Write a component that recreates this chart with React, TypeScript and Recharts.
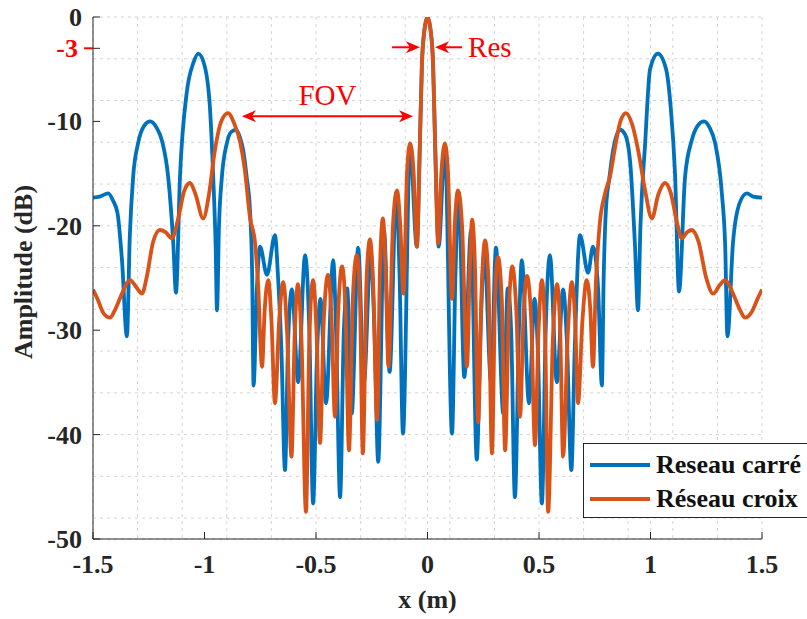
import React from 'react';
import {
  LineChart, Line, XAxis, YAxis, CartesianGrid, Legend, ReferenceLine, Label,
} from 'recharts';

// Reseau carré (blue)
const carreX = [
  -1.5, -1.47, -1.432, -1.41, -1.39, -1.37, -1.348, -1.335, -1.32, -1.298, -1.27, -1.244, -1.215, -1.19,
  -1.163, -1.14, -1.128, -1.11, -1.08, -1.05, -1.028, -0.998, -0.975, -0.961, -0.95, -0.944, -0.935,
  -0.922, -0.9, -0.88, -0.858, -0.84, -0.827, -0.81, -0.796, -0.786, -0.78, -0.765, -0.751, -0.72,
  -0.684, -0.67, -0.655, -0.639, -0.625, -0.608, -0.58, -0.549, -0.53, -0.513, -0.495, -0.48, -0.455,
  -0.423, -0.41, -0.392, -0.375, -0.36, -0.34, -0.311, -0.285, -0.255, -0.238, -0.221, -0.195, -0.17,
  -0.14, -0.125, -0.11, -0.078, -0.048, -0.034, -0.025, -0.014, 0,
  0.014, 0.025, 0.034, 0.05, 0.078, 0.11, 0.125, 0.14, 0.165, 0.195, 0.221, 0.238, 0.255, 0.285, 0.307,
  0.34, 0.36, 0.375, 0.392, 0.41, 0.423, 0.455, 0.48, 0.495, 0.513, 0.53, 0.549, 0.58, 0.608, 0.625,
  0.645, 0.66, 0.684, 0.72, 0.742, 0.765, 0.782, 0.79, 0.8, 0.815, 0.833, 0.863, 0.885, 0.908, 0.93,
  0.944, 0.955, 0.976, 0.998, 1.033, 1.07, 1.09, 1.11, 1.128, 1.155, 1.185, 1.212, 1.24, 1.265, 1.29,
  1.32, 1.335, 1.345, 1.37, 1.4, 1.432, 1.46, 1.5,
];
const carreY = [
  -17.3, -17.2, -16.9, -17.6, -18.8, -23.3, -30.6, -21, -15.3, -12.1, -10.4, -10.0, -10.6, -11.9,
  -15.3, -21.7, -26.4, -15.3, -7.3, -4.4, -3.5, -4.8, -8.9, -15.3, -22, -28.1, -20,
  -15.3, -12.1, -11.0, -10.8, -11.6, -12.7, -15.5, -18.5, -25, -35.3, -26, -22.0, -24.7,
  -20.9, -25, -32, -43.4, -31, -26.1, -35, -22.8, -30, -46.6, -32, -27, -37,
  -23.3, -30, -46, -30, -26, -38, -22.1, -35, -22.5, -30, -42.6, -20.5, -34,
  -16.8, -25, -39.9, -12.3, -22, -12, -4.5, -1.3, 0,
  -1.3, -4.5, -12, -22, -12.3, -39.9, -25, -16.8, -34.5, -20.5, -42.4, -30, -22.5, -35, -22.1,
  -38, -26, -30, -46, -30, -23.3, -37, -27, -32, -46.6, -30, -22.8, -35, -26.1, -31,
  -43.4, -32, -20.9, -24.5, -22, -26, -35.3, -25, -18.5, -15.5, -12.7, -10.8, -11.2, -13.7, -21.7,
  -28.1, -20, -12.1, -5.0, -3.5, -5.0, -8.5, -15, -26.3, -15.3, -11.8, -10.4, -10.0, -10.6, -12.1,
  -16.9, -22, -30.6, -21.6, -17.8, -16.9, -17.2, -17.3,
];

// Réseau croix (orange)
const croixX = [
  -1.5, -1.48, -1.455, -1.424, -1.4, -1.37, -1.334, -1.305, -1.28, -1.26, -1.23, -1.2, -1.175, -1.146,
  -1.12, -1.09, -1.065, -1.04, -1.006, -0.98, -0.955, -0.925, -0.895, -0.865, -0.84, -0.82, -0.796,
  -0.773, -0.76, -0.742, -0.73, -0.714, -0.7, -0.684, -0.665, -0.647, -0.63, -0.61, -0.595, -0.581,
  -0.565, -0.545, -0.53, -0.513, -0.498, -0.482, -0.465, -0.446, -0.43, -0.415, -0.4, -0.383, -0.368,
  -0.352, -0.335, -0.317, -0.303, -0.29, -0.273, -0.258, -0.243, -0.226, -0.213, -0.2, -0.188, -0.175,
  -0.155, -0.137, -0.122, -0.108, -0.092, -0.078, -0.062, -0.048, -0.034, -0.025, -0.014, 0,
  0.014, 0.025, 0.034, 0.048, 0.062, 0.078, 0.092, 0.11, 0.122, 0.137, 0.155, 0.177, 0.19, 0.2, 0.213,
  0.227, 0.243, 0.258, 0.273, 0.289, 0.303, 0.316, 0.333, 0.348, 0.365, 0.38, 0.398, 0.415, 0.43,
  0.446, 0.465, 0.482, 0.498, 0.513, 0.528, 0.541, 0.562, 0.581, 0.595, 0.608, 0.63, 0.647, 0.662,
  0.675, 0.695, 0.714, 0.73, 0.742, 0.755, 0.773, 0.795, 0.818, 0.845, 0.865, 0.89, 0.918, 0.944,
  0.975, 1.006, 1.035, 1.065, 1.09, 1.12, 1.14, 1.165, 1.185, 1.215, 1.25, 1.281, 1.31, 1.334, 1.37,
  1.4, 1.424, 1.455, 1.48, 1.5,
];
const croixY = [
  -26.1, -27, -28.3, -28.8, -28, -26.5, -25.2, -25.9, -26.5, -25, -21.5, -20.4, -20.6, -21.2,
  -19.5, -16.6, -15.9, -17, -19.3, -17, -13, -10, -9.2, -10.3, -12, -14.5, -19.2,
  -21.7, -25.5, -33.5, -28, -25.2, -29, -37, -29, -25.4, -30, -42.1, -30, -25.6,
  -31, -47.4, -31, -25.2, -30, -40.8, -29, -24.7, -29, -38.3, -28, -23.9, -28,
  -41.5, -27, -22.8, -27, -41.8, -25, -21.3, -26, -38.6, -24, -19.3, -24, -33.5,
  -20, -16.6, -20, -26.5, -15, -12.1, -15, -22, -12, -4.5, -1.3, 0,
  -1.3, -4.5, -12, -21.7, -15, -12.1, -15, -27, -20, -16.6, -20, -33.5, -24, -19.4, -24,
  -38.8, -26, -21.4, -25, -41.8, -27, -23, -27, -41.5, -28, -23.9, -28, -38.3, -29,
  -24.8, -29, -41, -30, -25.2, -31, -47.4, -31, -25.6, -30, -42.1, -30, -25.4, -29,
  -37, -29, -25.2, -28, -33.5, -25.5, -19.7, -17, -15.3, -12, -10, -9.2, -10.3, -12.7,
  -16.5, -19.3, -17, -15.9, -16.8, -19.8, -21.2, -20.6, -20.4, -21.5, -25, -26.5, -25.7, -25.2, -26.5,
  -28, -28.8, -28.2, -27, -26.1,
];

const xTicks = [-1.5, -1, -0.5, 0, 0.5, 1, 1.5];
const yTicks = [-50, -40, -30, -20, -10, -3, 0];
const gridX = [
  -1.5, -1.4, -1.3, -1.2, -1.1, -1, -0.9, -0.8, -0.7, -0.6, -0.5, -0.4, -0.3, -0.2, -0.1, 0,
  0.1, 0.2, 0.3, 0.4, 0.5, 0.6, 0.7, 0.8, 0.9, 1, 1.1, 1.2, 1.3, 1.4, 1.5,
];
const gridY = [
  -50, -48, -46, -44, -42, -40, -38, -36, -34, -32, -30, -28, -26, -24, -22, -20, -18, -16, -14,
  -12, -10, -8, -6, -4, -2, 0,
];

const carre = carreX.map((x, i) => ({ x, y: carreY[i] }));
const croix = croixX.map((x, i) => ({ x, y: croixY[i] }));

const BLUE = '#0072BD';
const ORANGE = '#D95319';
const AXIS = '#262626';
const SERIF = '"Liberation Serif", "Times New Roman", serif';
const bold = { fontFamily: SERIF, fontWeight: 700, fontSize: 26, fill: AXIS };

const XTick = ({ x, y, payload }: any) => (
  <text x={x} y={y} dy={17} textAnchor="middle" style={bold}>{String(payload.value)}</text>
);

const YTick = ({ x, y, payload }: any) => {
  if (payload.value === -3) {
    return (
      <g>
        <line x1={x + 2} y1={y} x2={x + 11} y2={y} stroke="red" strokeWidth={2} />
        <text x={x - 4} y={y} dy={9} textAnchor="end" style={{ ...bold, fill: 'red' }}>-3</text>
      </g>
    );
  }
  return <text x={x} y={y} dy={9} textAnchor="end" style={bold}>{String(payload.value)}</text>;
};

const arrowHead = (x: number, y: number, dir: number) => (
  <polygon
    points={`${x},${y} ${x - dir * 14},${y - 6} ${x - dir * 10},${y} ${x - dir * 14},${y + 6}`}
    fill="red"
  />
);

const FovArrow = (p: any) => (
  <g>
    <line x1={p.x1 + 8} y1={p.y1} x2={p.x2 - 8} y2={p.y2} stroke="red" strokeWidth={2} />
    {arrowHead(p.x1, p.y1, -1)}
    {arrowHead(p.x2, p.y2, 1)}
    <text x={(p.x1 + p.x2) / 2} y={p.y1 - 11} textAnchor="middle"
      style={{ fontFamily: SERIF, fontSize: 29, fill: 'red' }}>FOV</text>
  </g>
);

const ResLeft = (p: any) => (
  <g>
    <line x1={p.x1} y1={p.y1} x2={p.x2 - 8} y2={p.y2} stroke="red" strokeWidth={2} />
    {arrowHead(p.x2, p.y2, 1)}
  </g>
);

const ResRight = (p: any) => (
  <g>
    <line x1={p.x1} y1={p.y1} x2={p.x2 + 8} y2={p.y2} stroke="red" strokeWidth={2} />
    {arrowHead(p.x2, p.y2, -1)}
    <text x={p.x1 + 6} y={p.y1 + 10} style={{ fontFamily: SERIF, fontSize: 29, fill: 'red' }}>Res</text>
  </g>
);

const LegendBox = ({ payload }: any) => (
  <div style={{
    width: 240, height: 75, boxSizing: 'border-box', background: '#fff',
    border: `1.5px solid ${AXIS}`, padding: '4px 0 0 6px',
  }}>
    {(payload || []).map((e: any) => (
      <div key={e.value} style={{ display: 'flex', alignItems: 'center', height: 34 }}>
        <span style={{ display: 'inline-block', width: 60, height: 4, background: e.color, marginRight: 6 }} />
        <span style={{ fontFamily: SERIF, fontWeight: 700, fontSize: 26, color: '#111' }}>{e.value}</span>
      </div>
    ))}
  </div>
);

export default function App() {
  return (
    <div style={{ position: 'absolute', left: 0, top: 0, width: 807, height: 619, overflow: 'hidden', background: '#fff' }}>
      <LineChart width={807} height={619} margin={{ top: 17, right: 45, bottom: 0, left: 0 }}>
        <XAxis xAxisId="gx" type="number" dataKey="x" domain={[-1.5, 1.5]} ticks={gridX} allowDataOverflow hide />
        <YAxis yAxisId="gy" type="number" domain={[-50, 0]} ticks={gridY} allowDataOverflow hide />
        <CartesianGrid xAxisId="gx" yAxisId="gy" stroke="#d4d4d4" strokeDasharray="3 4" />
        <XAxis
          type="number" dataKey="x" domain={[-1.5, 1.5]} ticks={xTicks} allowDataOverflow
          height={80} stroke={AXIS} tickSize={-7} tickMargin={24} tick={<XTick />}
        >
          <Label
            content={({ viewBox }: any) => {
              const vb = viewBox || { x: 93, y: 539, width: 669 };
              return (
                <text x={vb.x + vb.width / 2} y={vb.y + 69} textAnchor="middle" style={bold}>x (m)</text>
              );
            }}
          />
        </XAxis>
        <XAxis xAxisId="top" orientation="top" type="number" domain={[-1.5, 1.5]} ticks={xTicks}
          allowDataOverflow height={0} stroke={AXIS} tickSize={-7} tick={false} />
        <YAxis
          type="number" domain={[-50, 0]} ticks={yTicks} allowDataOverflow interval={0}
          width={93} stroke={AXIS} tickSize={-7} tickMargin={18} tick={<YTick />}
        >
          <Label
            content={({ viewBox }: any) => {
              const vb = viewBox || { x: 0, y: 17, height: 522 };
              const cy = vb.y + vb.height / 2 - 6;
              return (
                <text transform={`translate(32,${cy}) rotate(-90)`} textAnchor="middle" style={bold}>
                  Amplitude (dB)
                </text>
              );
            }}
          />
        </YAxis>
        <YAxis yAxisId="right" orientation="right" type="number" domain={[-50, 0]} ticks={yTicks}
          allowDataOverflow width={0} stroke={AXIS} tickSize={-7} tick={false} />
        <Line data={carre} dataKey="y" name="Reseau carré" type="monotone" stroke={BLUE}
          strokeWidth={3.8} dot={false} isAnimationActive={false} />
        <Line data={croix} dataKey="y" name="Réseau croix" type="monotone" stroke={ORANGE}
          strokeWidth={3.8} dot={false} isAnimationActive={false} />
        <ReferenceLine segment={[{ x: -0.832, y: -9.5 }, { x: -0.065, y: -9.5 }]} shape={FovArrow} ifOverflow="visible" />
        <ReferenceLine segment={[{ x: -0.159, y: -2.9 }, { x: -0.034, y: -2.9 }]} shape={ResLeft} ifOverflow="visible" />
        <ReferenceLine segment={[{ x: 0.155, y: -2.9 }, { x: 0.034, y: -2.9 }]} shape={ResRight} ifOverflow="visible" />
        <Legend
          layout="vertical" align="center" verticalAlign="middle"
          wrapperStyle={{ left: 583, top: 443, width: 240, height: 75 }}
          content={<LegendBox />}
        />
      </LineChart>
    </div>
  );
}
